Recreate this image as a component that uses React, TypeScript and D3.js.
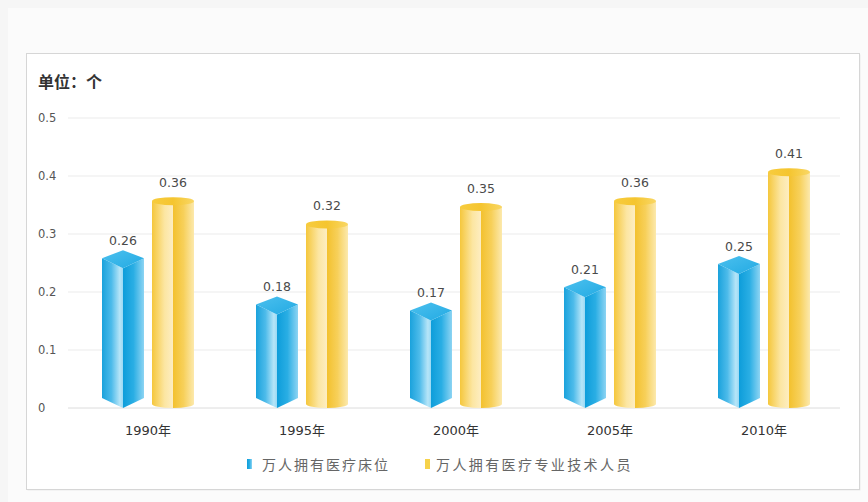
import React from "react";
import * as d3 from "d3";

const categories = ["1990年", "1995年", "2000年", "2005年", "2010年"];
const seriesNames = ["万人拥有医疗床位", "万人拥有医疗专业技术人员"];
const beds = [0.26, 0.18, 0.17, 0.21, 0.25];
const staff = [0.36, 0.32, 0.35, 0.36, 0.41];
const yTicks = [0, 0.1, 0.2, 0.3, 0.4, 0.5];
const title = "单位：个";

const W = 868;
const H = 502;

export default function App() {
  const y = d3.scaleLinear().domain([0, 0.5]).range([408, 118]);
  const x0 = d3.scaleBand<string>().domain(categories).range([71, 841]).paddingInner(0).paddingOuter(0);
  const x1 = d3.scaleBand<string>().domain(seriesNames).range([-46, 46]).paddingInner(0.16);
  const bw = x1.bandwidth();
  const half = bw / 2;
  const y0 = y(0);
  const fmt = d3.format(".2f");

  const numFont = "'DejaVu Sans', 'Noto Sans CJK SC', sans-serif";
  const cjkFont = "'Noto Sans CJK SC', sans-serif";

  const prism = (v: number, i: number) => {
    const cx = (x0(categories[i]) as number) + x0.bandwidth() / 2 + (x1(seriesNames[0]) as number) + half;
    const yv = y(v);
    const sT = yv + 1;
    const fT = sT + 10;
    const bT = sT - 8;
    const sB = y0 - 10;
    const line = d3.line();
    const left = line([[cx - half, sT], [cx, fT], [cx, y0], [cx - half, sB]]) + "Z";
    const right = line([[cx, fT], [cx + half, sT], [cx + half, sB], [cx, y0]]) + "Z";
    const top = line([[cx - half, sT], [cx, bT], [cx + half, sT], [cx, fT]]) + "Z";
    return (
      <g key={"b" + i}>
        <path d={left} fill="url(#blueLeft)" />
        <path d={right} fill="url(#blueRight)" />
        <path d={top} fill="url(#blueTop)" />
        <text x={cx} y={yv - 12.5} textAnchor="middle" fontSize={12.5} fill="#4a4a4a" fontFamily={numFont}>
          {fmt(v)}
        </text>
      </g>
    );
  };

  const cylinder = (v: number, i: number) => {
    const cx = (x0(categories[i]) as number) + x0.bandwidth() / 2 + (x1(seriesNames[1]) as number) + half;
    const yv = y(v);
    const ry = 4;
    const tc = yv + 2;
    const bc = y0 - ry;
    const body = `M${cx - half},${tc} L${cx - half},${bc} A${half},${ry} 0 0 0 ${cx + half},${bc} L${cx + half},${tc} Z`;
    return (
      <g key={"y" + i}>
        <path d={body} fill="url(#yellowBody)" />
        <ellipse cx={cx} cy={tc} rx={half} ry={ry} fill="url(#yellowTop)" />
        <text x={cx} y={yv - 12.5} textAnchor="middle" fontSize={12.5} fill="#4a4a4a" fontFamily={numFont}>
          {fmt(v)}
        </text>
      </g>
    );
  };

  return (
    <svg width={W} height={H} style={{ position: "absolute", left: 0, top: 0 }}>
      <defs>
        <linearGradient id="blueLeft" x1="0" x2="1" y1="0" y2="0">
          <stop offset="0%" stopColor="#1aa2dc" />
          <stop offset="45%" stopColor="#4dbbea" />
          <stop offset="85%" stopColor="#b6e5f8" />
          <stop offset="100%" stopColor="#9ad9f4" />
        </linearGradient>
        <linearGradient id="blueRight" x1="0" x2="1" y1="0" y2="0">
          <stop offset="0%" stopColor="#0d9dda" />
          <stop offset="50%" stopColor="#2aaee4" />
          <stop offset="100%" stopColor="#8dd4f3" />
        </linearGradient>
        <linearGradient id="blueTop" x1="0" x2="1" y1="0" y2="1">
          <stop offset="0%" stopColor="#4cc0ee" />
          <stop offset="100%" stopColor="#22aae3" />
        </linearGradient>
        <linearGradient id="yellowBody" x1="0" x2="1" y1="0" y2="0">
          <stop offset="0%" stopColor="#f5c73c" />
          <stop offset="30%" stopColor="#fce6a2" />
          <stop offset="49%" stopColor="#fdedc0" />
          <stop offset="50%" stopColor="#f3c12e" />
          <stop offset="75%" stopColor="#f7d05a" />
          <stop offset="100%" stopColor="#fce9ad" />
        </linearGradient>
        <linearGradient id="yellowTop" x1="0" x2="1" y1="0" y2="0">
          <stop offset="0%" stopColor="#f7cc3e" />
          <stop offset="50%" stopColor="#f5c52f" />
          <stop offset="100%" stopColor="#f9d765" />
        </linearGradient>
      </defs>

      <rect x={0} y={0} width={W} height={H} fill="#f6f6f6" />
      <rect x={8} y={8} width={W - 8} height={H - 8} fill="#fbfbfb" />
      <rect x={27.5} y={54.5} width={833} height={436} fill="#ececec" />
      <rect x={26.5} y={53.5} width={833} height={436} fill="#ffffff" stroke="#d6d6d6" />

      <text x={38} y={88} fontSize={16} fontWeight="bold" fill="#333" fontFamily={cjkFont}>
        {title}
      </text>

      {yTicks.map((t) => (
        <g key={t}>
          <line x1={68} x2={840} y1={y(t)} y2={y(t)} stroke={t === 0 ? "#dcdcdc" : "#ebebeb"} strokeWidth={1} />
          <text x={38} y={y(t) + 4} fontSize={11.5} fill="#555" fontFamily={numFont}>
            {t === 0 ? "0" : d3.format(".1f")(t)}
          </text>
        </g>
      ))}

      {staff.map((v, i) => cylinder(v, i))}
      {beds.map((v, i) => prism(v, i))}

      {categories.map((c) => (
        <text
          key={c}
          x={(x0(c) as number) + x0.bandwidth() / 2}
          y={435}
          textAnchor="middle"
          fontSize={13}
          fill="#333"
          fontFamily={numFont}
        >
          {c}
        </text>
      ))}

      <g>
        <rect x={247} y={459} width={5} height={10} fill="url(#blueRight)" />
        <text x={262} y={469.5} fontSize={14} letterSpacing={2} fill="#666" fontFamily={cjkFont}>
          {seriesNames[0]}
        </text>
        <rect x={425} y={459} width={5} height={10} fill="#f6d24a" />
        <text x={436} y={469.5} fontSize={14} letterSpacing={2.4} fill="#666" fontFamily={cjkFont}>
          {seriesNames[1]}
        </text>
      </g>
    </svg>
  );
}
